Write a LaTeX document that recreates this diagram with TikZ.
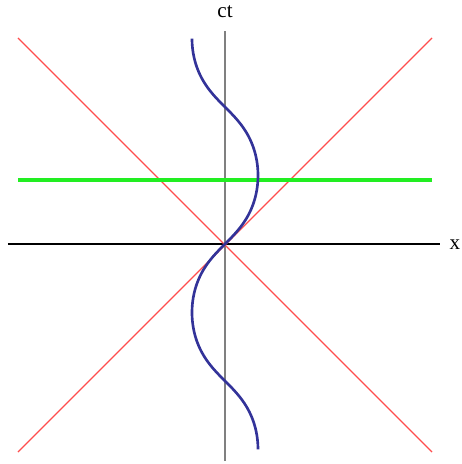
\documentclass[tikz,border=0pt]{standalone}
\usepackage{fontspec}
\setmainfont{Liberation Serif}
\usepackage{tikz}
\usetikzlibrary{positioning}
\definecolor{coneRed}{HTML}{FF4D4D}
\definecolor{worldBlue}{HTML}{333399}
\definecolor{nowGreen}{HTML}{22EE22}
\definecolor{axisGray}{HTML}{808080}

\begin{document}
\begin{tikzpicture}[x=1cm,y=1cm,font=\large,
  axis/.style={line width=0.8pt,draw=#1},
  cone/.style={line width=0.7pt,draw=coneRed},
  worldline/.style={line width=1.5pt,draw=worldBlue},
  simul/.style={line width=2pt,draw=nowGreen},
  lbl/.style={inner sep=1pt,text=black}
]
  \useasboundingbox (-4.5,-4.4) rectangle (4.72,4.88);

  % axes
  \coordinate (xl) at (-4.34,0);
  \coordinate (xr) at (4.3,0);
  \coordinate (tb) at (0,-4.34);
  \coordinate (tt) at (0,4.26);
  \draw[axis=black] (xl) -- (xr);
  \draw[axis=axisGray] (tb) -- (tt);
  \node[lbl] (xlabel) at (4.6,-0.02) {x};
  \node[lbl] (ctlabel) at (0,4.64) {ct};

  % light cone
  \coordinate (c1) at (-4.14,4.12);
  \coordinate (c2) at (4.14,-4.16);
  \coordinate (c3) at (-4.14,-4.16);
  \coordinate (c4) at (4.14,4.12);
  \draw[cone] (c1) -- (c2);
  \draw[cone] (c3) -- (c4);

  % line of simultaneity
  \coordinate (s1) at (-4.14,1.28);
  \coordinate (s2) at (4.14,1.28);
  \draw[simul] (s1) -- (s2);

  % oscillating worldline
  \draw[worldline] plot[domain=-4.712:4.712,samples=200,variable=\t]
    ({0.66*sin(\t r)},{0.872*\t-0.106*sin(2*\t r)});
\end{tikzpicture}
\end{document}
